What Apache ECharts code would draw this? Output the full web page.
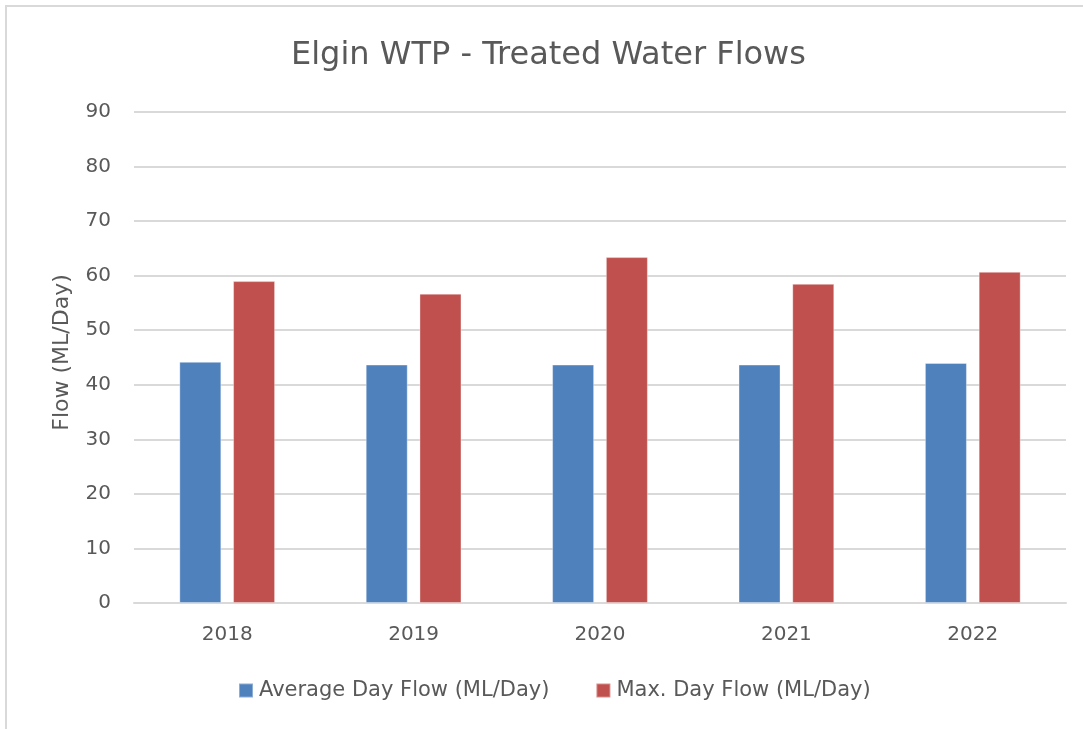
<!DOCTYPE html>
<html>
<head>
<meta charset="utf-8">
<script src="https://cdn.jsdelivr.net/npm/echarts@6/dist/echarts.min.js"></script>
<style>
html,body{margin:0;padding:0;background:#fff;overflow:hidden;}
#frame{position:absolute;left:5px;top:5px;width:1100px;height:760px;border:2px solid #d9d9d9;box-sizing:border-box;}
#chart{position:absolute;left:0;top:0;width:1083px;height:729px;}
</style>
</head>
<body>
<div id="frame"></div>
<div id="chart"></div>
<script>
const categories = ['2018', '2019', '2020', '2021', '2022'];
const avgDayFlow = [44.2, 43.7, 43.7, 43.7, 44.0];
const maxDayFlow = [59.0, 56.7, 63.4, 58.5, 60.7];
const seriesNames = ['Average Day Flow (ML/Day)', 'Max. Day Flow (ML/Day)'];
const titleText = 'Elgin WTP - Treated Water Flows';
const yAxisName = 'Flow (ML/Day)';

const FONT = 'DejaVu Sans';
const TXT = '#595959';
const chart = echarts.init(document.getElementById('chart'), null, {renderer: 'canvas'});
chart.setOption({
  backgroundColor: 'transparent',
  animation: false,
  title: {
    text: titleText,
    left: 291,
    top: 40,
    padding: 0,
    textStyle: {fontFamily: FONT, fontSize: 32, fontWeight: 'normal', color: TXT}
  },
  legend: {
    data: seriesNames,
    top: 680,
    left: 238,
    padding: 0,
    itemWidth: 14,
    itemHeight: 14,
    itemGap: 46,
    icon: 'rect',
    textStyle: {fontFamily: FONT, fontSize: 21, color: TXT, padding: [0, 0, 0, 1]}
  },
  grid: {left: 134, right: 17, top: 112, bottom: 126, containLabel: false},
  xAxis: {
    type: 'category',
    data: categories,
    axisLine: {show: true, lineStyle: {color: '#d9d9d9', width: 2}},
    axisTick: {show: false},
    axisLabel: {fontFamily: FONT, fontSize: 20, color: TXT, margin: 22}
  },
  yAxis: {
    type: 'value',
    min: 0,
    max: 90,
    interval: 10,
    name: yAxisName,
    nameLocation: 'middle',
    nameGap: 61,
    nameTextStyle: {fontFamily: FONT, fontSize: 22, color: TXT, padding: [0, 0, 0, 10]},
    axisLine: {show: false},
    axisTick: {show: false},
    axisLabel: {fontFamily: FONT, fontSize: 20, color: TXT, margin: 23},
    splitLine: {lineStyle: {color: '#d9d9d9', width: 2}}
  },
  series: [
    {
      name: seriesNames[0],
      type: 'bar',
      data: avgDayFlow,
      barWidth: 42,
      barGap: '28%',
      itemStyle: {color: '#4f81bd', borderColor: 'rgba(255,255,255,0.35)', borderWidth: 1}
    },
    {
      name: seriesNames[1],
      type: 'bar',
      data: maxDayFlow,
      barWidth: 42,
      barGap: '28%',
      itemStyle: {color: '#c0504d', borderColor: 'rgba(255,255,255,0.35)', borderWidth: 1}
    }
  ]
});
</script>
</body>
</html>
